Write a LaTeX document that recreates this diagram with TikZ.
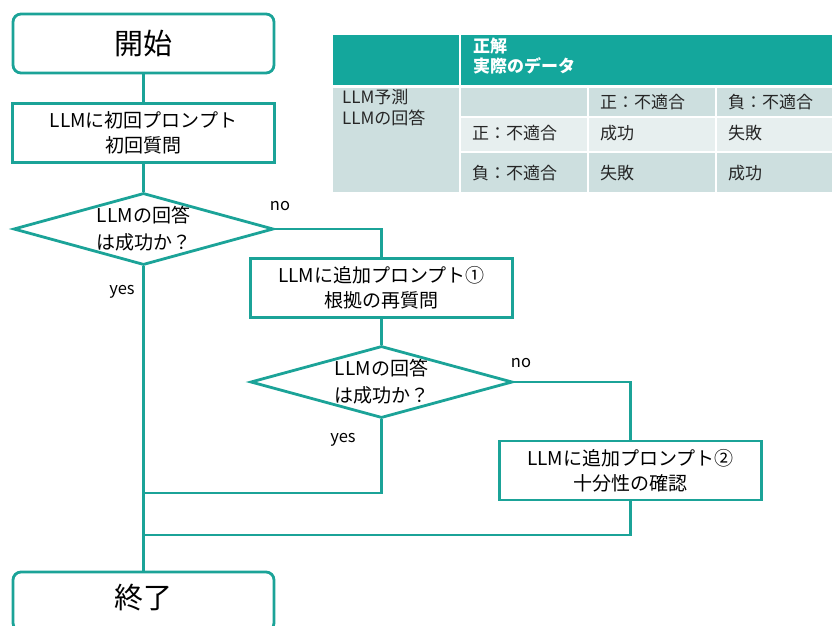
\documentclass[tikz,border=0pt]{standalone}
\usepackage{fontspec}
\setmainfont{Noto Sans CJK JP}
\usetikzlibrary{shapes.geometric}
\definecolor{flow}{RGB}{27,163,152}
\definecolor{thead}{RGB}{20,167,156}
\definecolor{tdark}{RGB}{205,223,223}
\definecolor{tlight}{RGB}{231,239,239}
\tikzset{
  flowline/.style={draw=flow,line width=2.8pt},
  termbox/.style={draw=flow,line width=2.8pt,rounded corners=8pt,fill=white,minimum width=261pt,minimum height=59pt,inner sep=0pt,font=\fontsize{29}{32}\selectfont},
  procbox/.style={draw=flow,line width=2.8pt,fill=white,minimum width=262pt,minimum height=59pt,inner sep=0pt,align=center,font=\fontsize{19}{25}\selectfont},
  decide/.style={diamond,draw=flow,line width=2.8pt,fill=white,minimum width=260pt,minimum height=72pt,inner sep=0pt},
  dtext/.style={align=center,font=\fontsize{19}{27}\selectfont,inner sep=0pt},
  yn/.style={font=\fontsize{16.5}{18}\selectfont,inner sep=0pt},
  cell/.style={anchor=west,inner sep=0pt,font=\fontsize{17}{21}\selectfont,text=black!85},
  tsep/.style={draw=white,line width=2pt}
}
\begin{document}
\begin{tikzpicture}[x=1pt,y=-1pt]
\useasboundingbox (0,0) rectangle (832,626);
\begin{scope}
\clip (0,0) rectangle (832,626);
% table
\fill[thead] (333,35) rectangle (832,85);
\draw[tsep] (460,35) -- (460,85);
\fill[tdark] (333,88) rectangle (460,192);
\fill[tdark] (460,88) rectangle (832,117);
\fill[tlight] (460,117) rectangle (832,152);
\fill[tdark] (460,152) rectangle (832,192);
\draw[tsep] (460,88) -- (460,192);
\draw[tsep] (588,88) -- (588,192);
\draw[tsep] (716,88) -- (716,192);
\draw[tsep] (460,117) -- (832,117);
\draw[tsep] (460,152) -- (832,152);
\node[cell,text=white,font=\fontsize{17}{20}\selectfont\bfseries,align=left,anchor=north west] (th) at (473,38) {正解\\実際のデータ};
\node[cell,align=left,anchor=north west] (tr) at (342,89) {LLM予測\\LLMの回答};
\node[cell] (c13) at (600,102) {正：不適合};
\node[cell] (c14) at (728,102) {負：不適合};
\node[cell] (c22) at (472,133) {正：不適合};
\node[cell] (c23) at (600,133) {成功};
\node[cell] (c24) at (728,133) {失敗};
\node[cell] (c32) at (472,173) {負：不適合};
\node[cell] (c33) at (600,173) {失敗};
\node[cell] (c34) at (728,173) {成功};
% flowchart
\node[termbox] (start) at (143.5,43.5) {開始};
\node[procbox] (p1) at (143.5,133) {LLMに初回プロンプト\\初回質問};
\node[decide] (d1) at (143.5,229) {};
\node[dtext] (d1t) at (d1) {LLMの回答\\は成功か？};
\node[procbox] (p2) at (381.5,288) {LLMに追加プロンプト①\\根拠の再質問};
\node[decide,minimum width=262pt] (d2) at (381.5,382) {};
\node[dtext] (d2t) at (d2) {LLMの回答\\は成功か？};
\node[procbox] (p3) at (630.5,470.5) {LLMに追加プロンプト②\\十分性の確認};
\node[termbox] (fin) at (143.5,601.5) {};
\node[font=\fontsize{29}{32}\selectfont,inner sep=0pt] (fint) at (143.5,598) {終了};
\coordinate (j1) at (143.5,493);
\coordinate (j2) at (143.5,535);
\draw[flowline] (start) -- (p1);
\draw[flowline] (p1) -- (d1);
\draw[flowline] (d1.east) -| (p2.north);
\draw[flowline] (d1.south) -- (fin.north);
\draw[flowline] (p2) -- (d2);
\draw[flowline] (d2.east) -| (p3.north);
\draw[flowline] (d2.south) |- (j1);
\draw[flowline] (p3.south) |- (j2);
\node[yn] (no1) at (280,206) {no};
\node[yn] (yes1) at (122,292) {yes};
\node[yn] (no2) at (521,363) {no};
\node[yn] (yes2) at (343,440) {yes};
\end{scope}
\end{tikzpicture}
\end{document}
